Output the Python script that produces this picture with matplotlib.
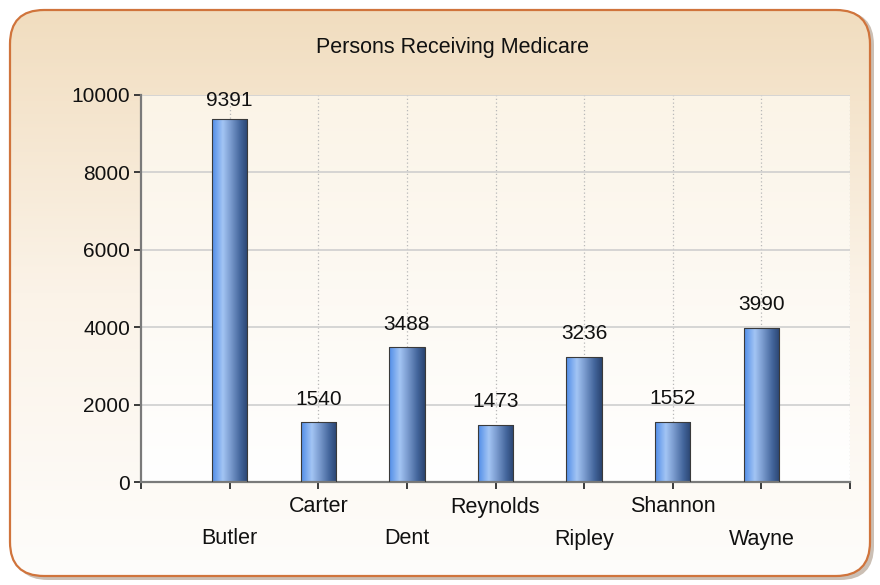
import numpy as np
import matplotlib
matplotlib.use("Agg")
import matplotlib.pyplot as plt
from matplotlib.colors import LinearSegmentedColormap
from matplotlib.patches import FancyBboxPatch

counties = ["Butler", "Carter", "Dent", "Reynolds", "Ripley", "Shannon", "Wayne"]
persons = [9391, 1540, 3488, 1473, 3236, 1552, 3990]
y_ticks = [0, 2000, 4000, 6000, 8000, 10000]
title = "Persons Receiving Medicare"

plt.rcParams['font.family'] = ['Liberation Sans', 'DejaVu Sans']

W, H = 880, 585
AX_H = 387  # plot area height in pixels
fig = plt.figure(figsize=(W / 100, H / 100), dpi=100)
fig.patch.set_facecolor('white')

# background panel with rounded corners and a soft gradient
bg = fig.add_axes([0, 0, 1, 1])
bg.set_xlim(0, W)
bg.set_ylim(0, H)
bg.axis('off')
shadow = FancyBboxPatch((14, 5), W - 20, H - 16,
                        boxstyle="round,pad=0,rounding_size=34",
                        fc='#cbbfb4', ec='none', zorder=0)
bg.add_patch(shadow)
panel = FancyBboxPatch((10, 9), W - 20, H - 19,
                       boxstyle="round,pad=0,rounding_size=34",
                       fc='none', ec='#d0743c', lw=1.6, zorder=3)
bg.add_patch(panel)
panel_cmap = LinearSegmentedColormap.from_list(
    'panel', ['#fefdfb', '#fbf3e8', '#f1ddbf'])
grad = np.linspace(0, 1, 256).reshape(-1, 1)
im = bg.imshow(grad, cmap=panel_cmap, origin='lower', aspect='auto',
               extent=[10, W - 10, 9, H - 10], zorder=1)
im.set_clip_path(panel)

# plot area
ax = fig.add_axes([141 / W, 103 / H, 709 / W, AX_H / H])
ax.patch.set_alpha(0)
area_cmap = LinearSegmentedColormap.from_list('area', ['#ffffff', '#fbf4e7'])
ax.imshow(grad, cmap=area_cmap, origin='lower', aspect='auto',
          extent=[0, len(counties) + 1, 0, 10000], zorder=0)

bar_cmap = LinearSegmentedColormap.from_list(
    'bar', [(0, '#4f8ce8'), (0.3, '#a3c5f4'), (0.5, '#7e9fd2'),
            (0.8, '#42649a'), (1, '#2a4470')])
hgrad = np.linspace(0, 1, 256).reshape(1, -1)
xs = np.arange(1, len(counties) + 1)
width = 0.4
bars = ax.bar(xs, persons, width=width, color='none',
              edgecolor='#3a3a3a', linewidth=0.8, zorder=3)
for b, v in zip(bars, persons):
    x0 = b.get_x()
    g = ax.imshow(hgrad, cmap=bar_cmap, aspect='auto',
                  extent=[x0, x0 + width, 0, v], zorder=2)
    g.set_clip_path(b)
    top_px = v / 10000 * AX_H
    off = min(23, AX_H - 5 - top_px)
    ax.annotate(str(v), (x0 + width / 2, v), xytext=(0, off),
                textcoords='offset pixels', ha='center', va='center',
                fontsize=15, color='#111111', zorder=4,
                annotation_clip=False)

ax.set_xlim(0, len(counties) + 1)
ax.set_ylim(0, 10000)

# grid
ax.set_yticks(y_ticks)
ax.set_yticklabels([str(t) for t in y_ticks], fontsize=15)
ax.yaxis.grid(True, color='#cfcfcf', lw=1.2, zorder=1)
for x in list(xs) + [len(counties) + 1]:
    ax.axvline(x, color='#b8b8b8', lw=0.9, ls=(0, (1, 2)), zorder=1)

ax.set_xticks(range(0, len(counties) + 2))
ax.set_xticklabels([])
for i, name in enumerate(counties):
    off = -25 if i % 2 == 1 else -57
    ax.annotate(name, (xs[i], 0), xytext=(0, off), textcoords='offset pixels',
                ha='center', va='center', fontsize=15.5, color='#111111',
                annotation_clip=False)

for s in ['top', 'right']:
    ax.spines[s].set_visible(False)
for s in ['left', 'bottom']:
    ax.spines[s].set_color('#7a7a7a')
    ax.spines[s].set_linewidth(1.6)
ax.tick_params(axis='both', direction='out', length=5, width=1.4,
               color='#3a3a3a', labelcolor='#111111')
ax.tick_params(axis='y', pad=3)

fig.text(452.5 / W, 1 - 48 / H, title, ha='center', va='center',
         fontsize=15.5, color='#111111')

fig.savefig("out.png", dpi=100)
